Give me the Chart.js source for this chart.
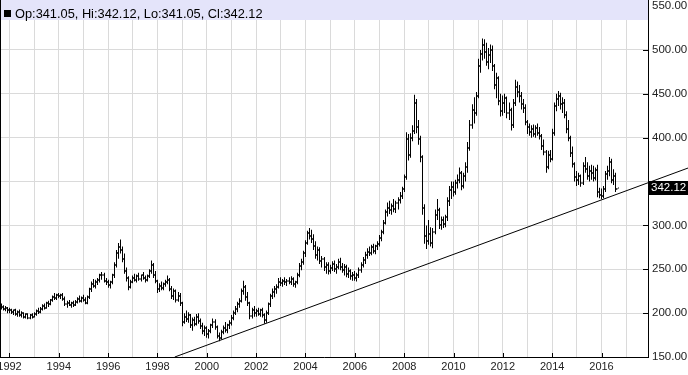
<!DOCTYPE html>
<html>
<head>
<meta charset="utf-8">
<title>Monthly bars 1991-2016</title>
<script src="https://cdn.jsdelivr.net/npm/chart.js@4.4.0/dist/chart.umd.min.js"></script>
<style>
  html, body { margin: 0; padding: 0; background: #fff; }
</style>
</head>
<body>
<canvas id="chart" width="688" height="375"></canvas>
<script>
// one bar per month, first bar is Sep 1991, last is Sep 2016
const firstYear = 1991;
const firstMonth = 8;

const opens = [
    209, 207, 205, 206,
    203, 204, 201, 203, 199, 201, 198, 200, 196, 199, 195, 198,
    196, 199, 202, 201, 205, 208, 206, 211, 210, 215, 218, 217,
    221, 219, 221, 216, 210, 212, 209, 211, 209, 213, 216, 214,
    217, 215, 212, 218, 227, 233, 231, 236, 238, 243, 244, 237,
    235, 232, 235, 243, 255, 268, 275, 272, 262, 248, 240, 230,
    236, 240, 238, 242, 239, 243, 240, 238, 242, 248, 255, 244,
    237, 228, 231, 229, 233, 236, 238, 228, 220, 225, 215, 220,
    212, 190, 196, 193, 198, 186, 192, 188, 196, 191, 185, 180,
    183, 176, 180, 186, 190, 184, 174, 172, 179, 183, 181, 186,
    189, 195, 200, 205, 210, 214, 225, 230, 218, 211, 197, 203,
    200, 202, 199, 203, 198, 192, 200, 210, 219, 224, 227, 230,
    236, 234, 237, 235, 237, 236, 239, 233, 235, 244, 254, 258,
    268, 280, 291, 288, 284, 276, 266, 272, 259, 262, 252, 255,
    248, 251, 256, 250, 253, 258, 252, 249, 253, 245, 248, 242,
    244, 240, 243, 249, 255, 260, 266, 270, 268, 275, 271, 276,
    279, 286, 292, 303, 315, 320, 317, 322, 319, 325, 329, 334,
    341, 355, 398, 380, 400, 408, 440, 412, 398, 378, 320, 288,
    282, 290, 280, 292, 312, 318, 300, 306, 301, 309, 328, 340,
    344, 338, 348, 352, 360, 345, 356, 366, 388, 414, 432, 428,
    448, 482, 495, 505, 498, 486, 494, 500, 482, 460, 468, 442,
    430, 440, 445, 428, 432, 414, 440, 458, 452, 448, 438, 434,
    418, 412, 406, 410, 404, 411, 405, 402, 390, 384, 366, 380,
    376, 405, 436, 444, 448, 438, 440, 426, 410, 400, 382, 370,
    355, 352, 356, 348, 368, 364, 356, 362, 360, 354, 363, 338,
    335, 333, 342, 358, 362, 372, 352, 356, 341.05
];

const highs = [
    211, 209, 208, 207,
    206, 205, 204, 205, 203, 204, 202, 201, 200, 200, 199, 200,
    201, 204, 206, 207, 210, 211, 213, 214, 216, 220, 223, 222,
    223, 222, 223, 219, 214, 215, 213, 214, 215, 218, 220, 219,
    221, 218, 220, 229, 236, 239, 238, 240, 245, 247, 246, 240,
    238, 237, 245, 258, 272, 280, 284, 276, 268, 252, 242, 238,
    243, 245, 244, 246, 244, 247, 243, 244, 250, 260, 257, 248,
    238, 234, 236, 235, 238, 243, 240, 231, 228, 227, 224, 223,
    213, 200, 203, 201, 199, 195, 196, 199, 200, 194, 189, 186,
    185, 182, 188, 194, 193, 186, 178, 181, 186, 190, 188, 192,
    198, 203, 208, 213, 217, 228, 237, 232, 224, 213, 206, 208,
    205, 206, 205, 206, 200, 203, 212, 222, 228, 231, 233, 240,
    241, 239, 241, 239, 241, 242, 241, 237, 246, 257, 262, 271,
    283, 294, 297, 295, 290, 282, 276, 275, 265, 264, 258, 258,
    255, 259, 260, 256, 262, 263, 257, 256, 255, 252, 250, 247,
    248, 246, 252, 258, 264, 270, 274, 276, 278, 279, 278, 282,
    289, 295, 306, 318, 326, 328, 325, 330, 328, 332, 338, 344,
    358, 406, 404, 405, 414, 449, 444, 420, 402, 380, 324, 300,
    306, 298, 297, 318, 330, 320, 310, 310, 312, 332, 345, 350,
    350, 352, 358, 366, 362, 360, 372, 395, 420, 438, 446, 452,
    490, 500, 513, 512, 508, 502, 506, 505, 484, 474, 470, 450,
    448, 450, 447, 440, 434, 444, 466, 464, 460, 452, 444, 438,
    420, 416, 414, 415, 414, 416, 412, 404, 398, 386, 385, 386,
    410, 440, 450, 453, 451, 446, 444, 430, 420, 402, 390, 372,
    362, 360, 358, 372, 378, 372, 368, 369, 368, 366, 369, 343,
    342, 345, 362, 368, 378, 376, 364, 360, 342.12
];

const lows = [
    204, 203, 202, 200,
    200, 199, 198, 197, 196, 196, 195, 194, 194, 193, 193, 194,
    195, 197, 199, 200, 203, 204, 205, 207, 209, 213, 215, 215,
    217, 216, 214, 208, 206, 208, 206, 207, 208, 211, 212, 212,
    213, 210, 210, 216, 224, 229, 228, 232, 235, 238, 235, 232,
    229, 228, 233, 240, 252, 262, 268, 258, 245, 236, 226, 228,
    234, 236, 235, 237, 236, 238, 235, 236, 240, 245, 240, 234,
    223, 224, 226, 226, 230, 233, 225, 216, 215, 212, 213, 208,
    185, 188, 190, 189, 183, 180, 185, 186, 188, 182, 176, 174,
    172, 171, 177, 183, 181, 171, 168, 170, 176, 178, 177, 182,
    186, 192, 198, 201, 206, 212, 221, 214, 208, 193, 194, 196,
    196, 197, 196, 195, 188, 189, 198, 207, 216, 218, 222, 228,
    231, 230, 232, 231, 233, 232, 230, 229, 233, 241, 249, 255,
    264, 278, 284, 280, 272, 262, 260, 256, 252, 248, 245, 244,
    245, 248, 247, 245, 250, 249, 246, 243, 241, 240, 238, 237,
    237, 236, 240, 246, 252, 256, 262, 265, 266, 268, 267, 272,
    276, 282, 290, 301, 310, 313, 312, 315, 314, 318, 325, 330,
    338, 352, 374, 377, 396, 404, 405, 392, 372, 312, 279, 273,
    278, 276, 274, 290, 306, 296, 295, 297, 298, 305, 322, 330,
    333, 335, 342, 348, 340, 342, 350, 360, 385, 410, 416, 425,
    445, 474, 488, 490, 482, 478, 485, 476, 455, 445, 437, 424,
    425, 428, 422, 420, 408, 411, 436, 446, 440, 432, 428, 414,
    404, 402, 400, 401, 400, 402, 398, 386, 380, 360, 364, 372,
    374, 402, 430, 436, 432, 428, 422, 405, 396, 378, 366, 350,
    345, 346, 344, 346, 360, 352, 350, 352, 350, 351, 332, 331,
    330, 331, 338, 352, 356, 348, 346, 338, 341.05
];

const closes = [
    207, 205, 206, 203,
    204, 201, 203, 199, 201, 198, 200, 196, 199, 195, 198, 196,
    199, 202, 201, 205, 208, 206, 211, 210, 215, 218, 217, 221,
    219, 221, 216, 210, 212, 209, 211, 209, 213, 216, 214, 217,
    215, 212, 218, 227, 233, 231, 236, 238, 243, 244, 237, 235,
    232, 235, 243, 255, 268, 275, 272, 262, 248, 240, 230, 236,
    240, 238, 242, 239, 243, 240, 238, 242, 248, 255, 244, 237,
    228, 231, 229, 233, 236, 238, 228, 220, 225, 215, 220, 212,
    190, 196, 193, 198, 186, 192, 188, 196, 191, 185, 180, 183,
    176, 180, 186, 190, 184, 174, 172, 179, 183, 181, 186, 189,
    195, 200, 205, 210, 214, 225, 230, 218, 211, 197, 203, 200,
    202, 199, 203, 198, 192, 200, 210, 219, 224, 227, 230, 236,
    234, 237, 235, 237, 236, 239, 233, 235, 244, 254, 258, 268,
    280, 291, 288, 284, 276, 266, 272, 259, 262, 252, 255, 248,
    251, 256, 250, 253, 258, 252, 249, 253, 245, 248, 242, 244,
    240, 243, 249, 255, 260, 266, 270, 268, 275, 271, 276, 279,
    286, 292, 303, 315, 320, 317, 322, 319, 325, 329, 334, 341,
    355, 398, 380, 400, 408, 440, 412, 398, 378, 320, 288, 282,
    290, 280, 292, 312, 318, 300, 306, 301, 309, 328, 340, 344,
    338, 348, 352, 360, 345, 356, 366, 388, 414, 432, 428, 448,
    482, 495, 505, 498, 486, 494, 500, 482, 460, 468, 442, 430,
    440, 445, 428, 432, 414, 440, 458, 452, 448, 438, 434, 418,
    412, 406, 410, 404, 411, 405, 402, 390, 384, 366, 380, 376,
    405, 436, 444, 448, 438, 440, 426, 410, 400, 382, 370, 355,
    352, 356, 348, 368, 364, 356, 362, 360, 354, 363, 338, 335,
    333, 342, 358, 362, 372, 352, 356, 341, 342.12
];

// support line drawn on the chart (year, value)
const trendYears = [1998.7, 2019.6];
const trendValues = [150, 366.3];

// axis ranges
const yearRange = [1991.615, 2017.885];
const priceRange = [150, 550];

const months = closes.map((c, i) => firstYear + (firstMonth + i) / 12);
const last = closes.length - 1;

const FONT = '"Liberation Sans", Arial, sans-serif';

// header band, open/close ticks, inner axis ticks and last price tag
const extras = {
    id: 'extras',
    beforeDatasetsDraw(chart){
        const {ctx, chartArea} = chart;
        ctx.save();
        ctx.fillStyle = 'rgb(228,228,250)';
        ctx.fillRect(chartArea.left, 0, chartArea.right - chartArea.left, 20);
        ctx.fillStyle = '#000';
        ctx.fillRect(4, 10, 7, 7);
        ctx.font = '12.8px ' + FONT;
        ctx.textBaseline = 'alphabetic';
        ctx.fillText(
            `Op:${opens[last].toFixed(2)}, Hi:${highs[last].toFixed(2)}, ` +
            `Lo:${lows[last].toFixed(2)}, Cl:${closes[last].toFixed(2)}`, 15, 17.5);
        ctx.restore();
    },
    beforeDatasetDraw(chart, args){
        // snap the high-low bars to whole pixels so they stay sharp
        if (args.index !== 1) return;
        args.meta.data.forEach(el => { el.x = Math.floor(el.x) + 0.5; });
    },
    afterDatasetsDraw(chart){
        const {ctx} = chart;
        const y = chart.scales.y;
        const bars = chart.getDatasetMeta(1).data;
        ctx.save();
        ctx.fillStyle = '#000';
        bars.forEach((el, i) => {
            const px = Math.floor(el.x);
            ctx.fillRect(px - 1, Math.round(y.getPixelForValue(opens[i])) - 0.5, 1, 1);
            ctx.fillRect(px + 1, Math.round(y.getPixelForValue(closes[i])) - 0.5, 1, 1);
        });
        ctx.restore();
    },
    afterDraw(chart){
        const {ctx, chartArea} = chart;
        const x = chart.scales.x, y = chart.scales.y;
        ctx.save();
        ctx.fillStyle = '#000';
        // left frame line and top piece of the price axis
        ctx.fillRect(chartArea.left, 0, 1, chartArea.bottom);
        ctx.fillRect(chartArea.right, 0, 1, chartArea.top);
        // ticks drawn inside the plot
        y.ticks.forEach(t => {
            if (t.value >= priceRange[1] || t.label === '') return;
            const py = Math.round(y.getPixelForValue(t.value));
            ctx.fillRect(chartArea.right - 5, py, 5, 1);
        });
        x.ticks.forEach(t => {
            if (t.label === '') return;
            const px = Math.round(x.getPixelForValue(t.value));
            ctx.fillRect(px, chartArea.bottom - 4, 1, 4);
        });
        // last price tag
        const py = Math.round(y.getPixelForValue(closes[last]));
        ctx.fillRect(chartArea.right + 1, py - 7, 40, 14);
        ctx.fillStyle = '#fff';
        ctx.font = '11.5px ' + FONT;
        ctx.textBaseline = 'middle';
        ctx.fillText(closes[last].toFixed(2), chartArea.right + 3, py);
        ctx.restore();
    }
};

new Chart(document.getElementById('chart'), {
    type: 'bar',
    data: {
        datasets: [
            {
                type: 'line',
                data: trendYears.map((t, i) => ({x: t, y: trendValues[i]})),
                borderColor: '#000',
                borderWidth: 1,
                pointRadius: 0,
                clip: false,
                order: 0
            },
            {
                data: months.map((t, i) => ({x: t, y: [lows[i], highs[i]]})),
                backgroundColor: '#000',
                borderWidth: 0,
                barThickness: 1,
                grouped: false,
                inflateAmount: 0,
                order: 1
            }
        ]
    },
    options: {
        responsive: false,
        animation: false,
        layout: { padding: { top: 6, left: 0, right: 0, bottom: 0 } },
        plugins: { legend: { display: false }, tooltip: { enabled: false } },
        scales: {
            x: {
                type: 'linear',
                min: yearRange[0],
                max: yearRange[1],
                offset: false,
                grid: { color: '#dadada', drawTicks: false, offset: false },
                border: { color: '#000' },
                ticks: {
                    stepSize: 1,
                    includeBounds: false,
                    autoSkip: false,
                    maxRotation: 0,
                    padding: 3,
                    color: '#222',
                    font: { family: FONT, size: 11 },
                    callback: v => (v % 2 === 0 ? String(v) : '')
                },
                afterFit: s => { s.height = 18; s.paddingLeft = 0; s.paddingRight = 0; }
            },
            y: {
                position: 'right',
                min: priceRange[0],
                max: priceRange[1],
                grid: { color: '#dadada', drawTicks: false },
                border: { color: '#000' },
                ticks: {
                    stepSize: 50,
                    padding: 4,
                    color: '#222',
                    font: { family: FONT, size: 11.5 },
                    callback: v => (Math.abs(v - closes[last]) < 15 ? '' : v.toFixed(2))
                },
                afterFit: s => { s.width = 40; s.paddingTop = 0; s.paddingBottom = 0; }
            }
        }
    },
    plugins: [extras]
});
</script>
</body>
</html>
